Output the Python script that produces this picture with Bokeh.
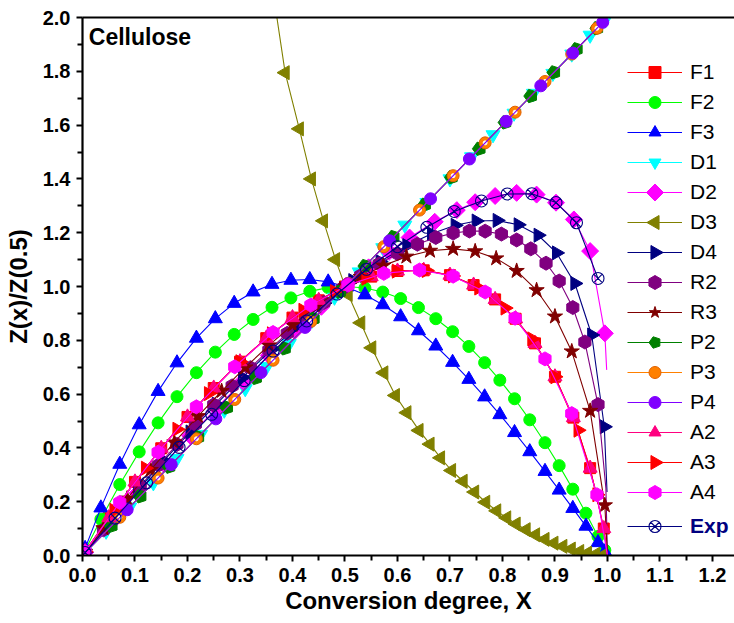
import math
from bokeh.plotting import figure
from bokeh.models import (Range1d, FixedTicker, PrintfTickFormatter, Legend,
                          LegendItem, Label, LinearAxis)
from bokeh.embed import file_html
from bokeh.resources import INLINE

# ---------------- data ----------------
F1_x = [0.005, 0.05, 0.1, 0.15, 0.2, 0.25, 0.3, 0.35, 0.4, 0.45, 0.5, 0.55, 0.6, 0.65, 0.7,
        0.745, 0.786, 0.825, 0.862, 0.9, 0.935, 0.967, 0.993]
F1_y = [0.0144, 0.1406, 0.2736, 0.3986, 0.5151, 0.6226, 0.7204, 0.8079, 0.8844, 0.9487, 1.0,
        1.0368, 1.0576, 1.0602, 1.0422, 1.0054, 0.952, 0.8801, 0.7886, 0.6644, 0.5126, 0.3248, 0.1002]
F1_tail_x = [1.0]
F1_tail_y = [0.0]

F2_x = [0.005, 0.035, 0.071, 0.108, 0.144, 0.18, 0.217, 0.253, 0.289, 0.325, 0.361, 0.397, 0.433,
        0.468, 0.503, 0.538, 0.572, 0.606, 0.64, 0.673, 0.705, 0.736, 0.766, 0.795, 0.823, 0.852,
        0.881, 0.908, 0.934, 0.959, 0.982, 0.995]
F2_y = [0.0199, 0.1351, 0.2638, 0.3853, 0.4931, 0.5904, 0.6796, 0.756, 0.8219, 0.8775, 0.9227,
        0.9576, 0.982, 0.9959, 1.0, 0.9942, 0.9793, 0.9551, 0.9216, 0.8803, 0.8319, 0.7772, 0.717,
        0.6519, 0.5827, 0.5044, 0.4194, 0.3341, 0.2466, 0.1573, 0.0707, 0.0199]

F3_x = [0.005, 0.035, 0.071, 0.108, 0.144, 0.18, 0.217, 0.253, 0.289, 0.325, 0.361, 0.397, 0.433,
        0.468, 0.503, 0.538, 0.572, 0.606, 0.64, 0.673, 0.705, 0.736, 0.766, 0.795, 0.823, 0.852,
        0.881, 0.908, 0.934, 0.959, 0.982, 0.995]
F3_y = [0.0265, 0.177, 0.3393, 0.4861, 0.6101, 0.7164, 0.8079, 0.8804, 0.9375, 0.9799, 1.0082,
        1.0233, 1.0259, 1.0171, 0.998, 0.969, 0.9323, 0.8876, 0.8356, 0.7788, 0.7182, 0.6549,
        0.5898, 0.5237, 0.4572, 0.386, 0.3128, 0.2433, 0.1752, 0.1091, 0.048, 0.0133]

D1_x = [0.005, 0.045, 0.09, 0.135, 0.18, 0.225, 0.27, 0.31, 0.351, 0.394, 0.437, 0.48, 0.527,
        0.572, 0.614, 0.656, 0.7, 0.741, 0.782, 0.822, 0.859, 0.896, 0.932, 0.967, 0.995]
D1_y = [0.01, 0.09, 0.18, 0.27, 0.36, 0.45, 0.54, 0.62, 0.702, 0.788, 0.874, 0.96, 1.054, 1.144,
        1.228, 1.312, 1.4, 1.482, 1.564, 1.644, 1.718, 1.792, 1.864, 1.934, 1.99]

D2_x = [0.005, 0.055, 0.105, 0.155, 0.205, 0.255, 0.305, 0.355, 0.405, 0.455, 0.5, 0.545, 0.584,
        0.623, 0.671, 0.713, 0.748, 0.786, 0.827, 0.865, 0.902, 0.936, 0.967, 0.995]
D2_y = [0.0113, 0.1231, 0.2328, 0.3403, 0.4454, 0.5478, 0.6473, 0.7435, 0.836, 0.9245, 1.0,
        1.0712, 1.1288, 1.182, 1.2405, 1.2839, 1.3133, 1.3364, 1.348, 1.3416, 1.3116, 1.2492,
        1.1316, 0.8258]
D2_tail_x = [0.9985]
D2_tail_y = [0.69]

D3_head_x = [0.368]
D3_head_y = [2.03]
D3_x = [0.386, 0.413, 0.436, 0.459, 0.482, 0.506, 0.53, 0.551, 0.574, 0.596, 0.618, 0.641, 0.662,
        0.682, 0.703, 0.725, 0.747, 0.768, 0.789, 0.808, 0.826, 0.845, 0.863, 0.881, 0.898, 0.915,
        0.931, 0.947, 0.962, 0.977, 0.992]
D3_y = [1.795, 1.586, 1.4, 1.244, 1.1, 0.97, 0.865, 0.772, 0.679, 0.595, 0.531, 0.465, 0.414,
        0.363, 0.316, 0.276, 0.236, 0.198, 0.166, 0.14, 0.117, 0.096, 0.077, 0.06, 0.046, 0.034,
        0.024, 0.015, 0.009, 0.004, 0.001]

D4_x = [0.005, 0.055, 0.105, 0.155, 0.205, 0.255, 0.305, 0.36, 0.41, 0.46, 0.515, 0.567, 0.618,
        0.665, 0.71, 0.75, 0.79, 0.83, 0.868, 0.903, 0.938, 0.97, 0.994]
D4_y = [0.0118, 0.1281, 0.2418, 0.3525, 0.4592, 0.5626, 0.6618, 0.7658, 0.8549, 0.9381, 1.022,
        1.0926, 1.152, 1.1964, 1.2275, 1.2435, 1.2456, 1.2294, 1.1906, 1.1249, 1.0113, 0.8197, 0.4785]
D4_tail_x = [0.9992]
D4_tail_y = [0.236]

R2_x = [0.005, 0.04, 0.075, 0.11, 0.145, 0.18, 0.215, 0.25, 0.285, 0.32, 0.355, 0.39, 0.425, 0.46,
        0.495, 0.53, 0.565, 0.6, 0.638, 0.673, 0.706, 0.737, 0.767, 0.798, 0.827, 0.854, 0.883,
        0.908, 0.934, 0.957, 0.982]
R2_y = [0.0121, 0.0956, 0.1775, 0.2578, 0.3364, 0.413, 0.4877, 0.5602, 0.6305, 0.6983, 0.7635,
        0.8258, 0.885, 0.9408, 0.9929, 1.0408, 1.0842, 1.1224, 1.1572, 1.1822, 1.1985, 1.2063,
        1.2057, 1.1948, 1.173, 1.14, 1.0867, 1.0203, 0.9218, 0.7936, 0.5609]
R2_tail_x = [0.997, 1.0]
R2_tail_y = [0.25, 0.0]

R3_x = [0.005, 0.04, 0.085, 0.13, 0.175, 0.22, 0.265, 0.31, 0.355, 0.4, 0.445, 0.49, 0.53, 0.573,
        0.617, 0.662, 0.706, 0.748, 0.788, 0.827, 0.865, 0.9, 0.932, 0.967, 0.995]
R3_y = [0.0128, 0.1012, 0.2116, 0.3181, 0.4204, 0.5182, 0.6113, 0.699, 0.7811, 0.857, 0.9261,
        0.9875, 1.035, 1.0776, 1.111, 1.1329, 1.1399, 1.1308, 1.1045, 1.0578, 0.9862, 0.8883,
        0.7587, 0.5377, 0.1865]
R3_tail_x = [1.0]
R3_tail_y = [0.0]

P2_x = [0.005, 0.055, 0.11, 0.165, 0.22, 0.275, 0.33, 0.385, 0.44, 0.49, 0.538, 0.592, 0.652,
        0.703, 0.756, 0.805, 0.854, 0.898, 0.941, 0.98]
P2_y = [0.01, 0.11, 0.22, 0.33, 0.44, 0.55, 0.66, 0.77, 0.88, 0.98, 1.076, 1.184, 1.304, 1.406,
        1.512, 1.61, 1.708, 1.796, 1.882, 1.96]

P3_x = [0.005, 0.071, 0.144, 0.217, 0.29, 0.363, 0.435, 0.506, 0.574, 0.642, 0.706, 0.767, 0.824,
        0.881, 0.932, 0.98]
P3_y = [0.01, 0.142, 0.288, 0.434, 0.58, 0.726, 0.87, 1.012, 1.148, 1.284, 1.412, 1.534, 1.648,
        1.762, 1.864, 1.96]

P4_x = [0.005, 0.085, 0.169, 0.254, 0.34, 0.424, 0.505, 0.585, 0.663, 0.737, 0.807, 0.873, 0.934,
        0.991]
P4_y = [0.01, 0.17, 0.338, 0.508, 0.68, 0.848, 1.01, 1.17, 1.326, 1.474, 1.614, 1.746, 1.868, 1.982]
P4_tail_x = [1.0]
P4_tail_y = [2.0]

A2_x = [0.005, 0.05, 0.1, 0.15, 0.2, 0.25, 0.3, 0.35, 0.4, 0.45, 0.5, 0.55, 0.6, 0.65, 0.7,
        0.745, 0.786, 0.825, 0.862, 0.9, 0.935, 0.967, 0.993]
A2_y = [0.0144, 0.1406, 0.2736, 0.3986, 0.5151, 0.6226, 0.7204, 0.8079, 0.8844, 0.9487, 1.0,
        1.0368, 1.0576, 1.0602, 1.0422, 1.0054, 0.952, 0.8801, 0.7886, 0.6644, 0.5126, 0.3248, 0.1002]
A2_tail_x = [1.0]
A2_tail_y = [0.0]

A3_x = [0.005, 0.06, 0.12, 0.18, 0.24, 0.3, 0.36, 0.42, 0.48, 0.54, 0.598, 0.655, 0.705, 0.755,
        0.805, 0.856, 0.9, 0.944, 0.98]
A3_y = [0.0144, 0.1678, 0.3246, 0.4695, 0.6018, 0.7204, 0.8242, 0.9116, 0.9812, 1.0307, 1.0571,
        1.0594, 1.0391, 0.9943, 0.9198, 0.8052, 0.6644, 0.4657, 0.2258]

A4_x = [0.005, 0.071, 0.144, 0.217, 0.29, 0.363, 0.435, 0.506, 0.574, 0.642, 0.706, 0.767, 0.824,
        0.881, 0.932, 0.98]
A4_y = [0.0144, 0.1974, 0.384, 0.5527, 0.7016, 0.8289, 0.9308, 1.0052, 1.0489, 1.0611, 1.0385,
        0.9794, 0.8822, 0.7309, 0.5275, 0.2258]
A4_tail_x = [1.0]
A4_tail_y = [0.0]

Exp_x = [0.005, 0.062, 0.122, 0.184, 0.246, 0.308, 0.363, 0.427, 0.485, 0.541, 0.6, 0.656, 0.708,
         0.76, 0.809, 0.856, 0.902, 0.941, 0.982]
Exp_y = [0.011, 0.139, 0.27, 0.402, 0.525, 0.65, 0.76, 0.872, 0.972, 1.064, 1.148, 1.22, 1.279,
         1.318, 1.344, 1.345, 1.312, 1.237, 1.03]

x_ticks = [0.0, 0.1, 0.2, 0.3, 0.4, 0.5, 0.6, 0.7, 0.8, 0.9, 1.0, 1.1, 1.2]
x_minor = [0.05, 0.15, 0.25, 0.35, 0.45, 0.55, 0.65, 0.75, 0.85, 0.95, 1.05, 1.15]
y_ticks = [0.0, 0.2, 0.4, 0.6, 0.8, 1.0, 1.2, 1.4, 1.6, 1.8, 2.0]
y_minor = [0.1, 0.3, 0.5, 0.7, 0.9, 1.1, 1.3, 1.5, 1.7, 1.9]

# ---------------- layout & styles ----------------
FONT = "Liberation Sans"
W, H = 734, 623
BL, BR, BT, BB = 82, 0, 17, 68          # borders -> plot frame
X0, X1, Y0, Y1 = 0.0, 1.242, 0.0, 2.0   # axis ranges
FW, FH = W - BL - BR, H - BT - BB
LEG_X, LEG_Y = 545, 48                  # legend offset from frame bottom-left (px)
ROW_H, GLYPH_W = 30, 55

series = [
    ("F1", F1_x, F1_y, None, (F1_tail_x, F1_tail_y), dict(color="#FF0000", marker="square", size=11)),
    ("F2", F2_x, F2_y, None, None, dict(color="#00FF00", marker="circle", size=12)),
    ("F3", F3_x, F3_y, None, None, dict(color="#0000FF", marker="triangle", size=14)),
    ("D1", D1_x, D1_y, None, None, dict(color="#00FFFF", marker="inverted_triangle", size=14)),
    ("D2", D2_x, D2_y, None, (D2_tail_x, D2_tail_y), dict(color="#FF00FF", marker="square", size=12, angle=math.pi / 4)),
    ("D3", D3_x, D3_y, (D3_head_x, D3_head_y), None, dict(color="#808000", marker="triangle", size=14, angle=math.pi / 2)),
    ("D4", D4_x, D4_y, None, (D4_tail_x, D4_tail_y), dict(color="#000080", marker="triangle", size=14, angle=-math.pi / 2)),
    ("R2", R2_x, R2_y, None, (R2_tail_x, R2_tail_y), dict(color="#800080", marker="hex", size=14, angle=math.pi / 6)),
    ("R3", R3_x, R3_y, None, (R3_tail_x, R3_tail_y), dict(color="#800000", marker="star", size=16)),
    ("P2", P2_x, P2_y, None, None, dict(color="#008000", marker="pentagon", size=14)),
    ("P3", P3_x, P3_y, None, None, dict(color="#FF8000", marker="ball", size=12)),
    ("P4", P4_x, P4_y, None, (P4_tail_x, P4_tail_y), dict(color="#8000FF", marker="circle", size=12)),
    ("A2", A2_x, A2_y, None, (A2_tail_x, A2_tail_y), dict(color="#FF0080", marker="triangle", size=14)),
    ("A3", A3_x, A3_y, None, None, dict(color="#FF0000", marker="triangle", size=14, angle=-math.pi / 2)),
    ("A4", A4_x, A4_y, None, (A4_tail_x, A4_tail_y), dict(color="#FF00FF", marker="hex", size=14, angle=math.pi / 6)),
    ("Exp", Exp_x, Exp_y, None, None, dict(color="#000080", marker="circle_x", size=12, hollow=True)),
]

p = figure(width=W, height=H, x_range=Range1d(X0, X1), y_range=Range1d(Y0, Y1),
           output_backend="svg", toolbar_location=None,
           min_border_left=BL, min_border_right=BR, min_border_top=BT, min_border_bottom=BB)
p.outline_line_color = None
p.xgrid.visible = False
p.ygrid.visible = False
p.background_fill_color = "white"
p.border_fill_color = "white"


def style_axis(ax, ticks, minor):
    ax.ticker = FixedTicker(ticks=ticks, minor_ticks=minor)
    ax.formatter = PrintfTickFormatter(format="%.1f")
    ax.axis_line_width = 2.2
    ax.axis_line_color = "black"
    ax.major_tick_line_width = 2
    ax.minor_tick_line_width = 2
    ax.major_tick_in = 0
    ax.major_tick_out = 6
    ax.minor_tick_in = 0
    ax.minor_tick_out = 5
    ax.major_label_text_font = FONT
    ax.major_label_text_font_style = "bold"
    ax.major_label_text_font_size = "20px"
    ax.major_label_text_color = "black"
    ax.axis_label_text_font = FONT
    ax.axis_label_text_font_style = "bold"
    ax.axis_label_text_font_size = "24px"
    ax.axis_label_text_color = "black"


style_axis(p.xaxis[0], x_ticks, x_minor)
style_axis(p.yaxis[0], y_ticks, y_minor)
p.xaxis[0].axis_label = "Conversion degree, X"
p.yaxis[0].axis_label = "Z(x)/Z(0.5)"
p.xaxis[0].major_label_standoff = 6
p.xaxis[0].axis_label_standoff = 2
p.yaxis[0].major_label_standoff = 6
p.yaxis[0].axis_label_standoff = 8

top_axis = LinearAxis(axis_line_width=2.2, axis_line_color="black",
                      major_tick_line_color=None, minor_tick_line_color=None,
                      major_label_text_color=None, major_label_text_font_size="1px")
p.add_layout(top_axis, "above")


def legend_glyph_pos(row):
    """data-space centre of the legend glyph in a given legend row"""
    px = BL + LEG_X + GLYPH_W / 2.0
    py_from_bottom = LEG_Y + (14 - row) * ROW_H + ROW_H / 2.0
    return (X0 + (px - BL) / FW * (X1 - X0), Y0 + py_from_bottom / FH * (Y1 - Y0))


items = []
exp_item = None
for row, (name, xs, ys, head, tail, st) in enumerate(series):
    c = st["color"]
    lx = list(xs)
    ly = list(ys)
    if head is not None:
        lx = list(head[0]) + lx
        ly = list(head[1]) + ly
    if tail is not None:
        lx = lx + list(tail[0])
        ly = ly + list(tail[1])
    lr = p.line(lx, ly, line_color=c, line_width=1.1)
    leg_rends = [lr]
    mk = st["marker"]
    ang = st.get("angle", 0.0)
    if mk == "pentagon":
        try:
            mr = p.ngon(x=xs, y=ys, radius=st["size"] / 2, radius_units="screen", n=5,
                        angle=math.pi / 2, fill_color=c, line_color=c)
        except Exception:
            mr = p.scatter(xs, ys, marker="hex", size=st["size"], fill_color=c, line_color=c,
                           angle=math.pi / 6)
        leg_rends.append(mr)
    elif mk == "ball":
        mr = p.scatter(xs, ys, marker="circle", size=st["size"], fill_color=c, line_color="#E06000")
        p.scatter(xs, ys, marker="circle", size=4, fill_color="white", line_color="white")
        leg_rends.append(mr)
    elif st.get("hollow"):
        mr = p.scatter(xs, ys, marker=mk, size=st["size"], fill_color=None, line_color=c,
                       line_width=1.1)
        leg_rends.append(mr)
    else:
        mr = p.scatter(xs, ys, marker=mk, size=st["size"], fill_color=c, line_color=c, angle=ang)
        if ang == 0.0:
            leg_rends.append(mr)
    item = LegendItem(label=name, renderers=leg_rends)
    if name == "Exp":
        exp_item = item
    else:
        items.append(item)
        if ang != 0.0:
            # legend glyphs are drawn unrotated by Bokeh: add the rotated marker on top
            gx, gy = legend_glyph_pos(row)
            p.scatter([gx], [gy], marker=mk, size=st["size"], fill_color=c, line_color=c,
                      angle=ang, level="overlay")


def make_legend(its, loc):
    return Legend(items=its, location=loc, orientation="vertical",
                  border_line_color=None, background_fill_alpha=0.0,
                  padding=0, margin=0, spacing=0,
                  glyph_width=GLYPH_W, glyph_height=ROW_H, label_height=ROW_H, label_standoff=8,
                  label_text_font=FONT, label_text_font_size="21px", label_text_color="black")


leg1 = make_legend(items, (LEG_X, LEG_Y))
leg2 = make_legend([exp_item], (LEG_X, LEG_Y - 34))
leg2.label_text_font_style = "bold"
leg2.label_text_color = "#000080"
p.add_layout(leg1)
p.add_layout(leg2)

p.add_layout(Label(x=0.012, y=1.975, text="Cellulose", text_font=FONT, text_font_style="bold",
                   text_font_size="23px", text_color="black", text_baseline="top"))

open("out.html", "w").write(file_html(p, INLINE))
